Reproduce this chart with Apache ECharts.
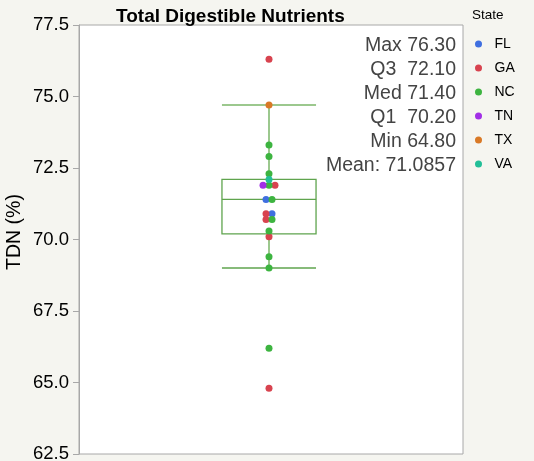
<!DOCTYPE html>
<html>
<head>
<meta charset="utf-8">
<script src="https://cdn.jsdelivr.net/npm/echarts@6/dist/echarts.min.js"></script>
<style>
html,body{margin:0;padding:0;background:#f5f5f0;}
#c{width:534px;height:461px;}
</style>
</head>
<body>
<div id="c"></div>
<script>
// ---- data ----
const stateNames = ['FL', 'GA', 'NC', 'TN', 'TX', 'VA'];
const stateColors = ['#3f6fe0', '#d8434f', '#3db440', '#a22fe6', '#d97926', '#22bf98'];
const pointStates = ['GA','TX','NC','NC','NC','VA','TN','NC','GA','FL','NC','GA','FL','GA','NC','NC','GA','NC','NC','NC','GA'];
const pointValues = [76.3,74.7,73.3,72.9,72.3,72.1,71.9,71.9,71.9,71.4,71.4,70.9,70.9,70.7,70.7,70.3,70.1,69.4,69.0,66.2,64.8];
const boxValues = [69.0, 70.2, 71.4, 72.1, 74.7]; // lower whisker, Q1, median, Q3, upper whisker
const statLabels = ['Max', 'Q3 ', 'Med', 'Q1 ', 'Min'];
const statValues = [76.30, 72.10, 71.40, 70.20, 64.80];
const meanValue = 71.0857;
const yTicks = { min: 62.5, max: 77.5, interval: 2.5 };
const category = ['TDN'];
const FONT = 'Liberation Sans, Arial, sans-serif';

// ---- beeswarm offsets (computed from duplicate values) ----
const groups = {};
pointValues.forEach((v, i) => { (groups[v] = groups[v] || []).push(i); });
const offsetOf = pointValues.map((v, i) => {
  const g = groups[v]; const k = g.indexOf(i);
  return (k - (g.length - 1) / 2) * 6;
});

const scatterSeries = stateNames.map((s, si) => ({
  name: s,
  type: 'scatter',
  z: 5,
  symbol: 'circle',
  symbolSize: 7,
  itemStyle: { color: stateColors[si], opacity: 1 },
  emphasis: { disabled: true },
  data: pointValues.map((v, i) => pointStates[i] === s ? { value: [category[0], v], symbolOffset: [offsetOf[i] - 2, 0] } : null).filter(Boolean)
}));

const boxSeries = {
  type: 'custom',
  z: 2,
  silent: true,
  encode: { x: 0, y: [1, 2, 3, 4, 5] },
  data: [[category[0]].concat(boxValues)],
  renderItem: function (params, api) {
    const cx = api.coord([api.value(0), boxValues[0]])[0] - 2;
    const w = api.size([1, 0])[0] * 0.245;
    const y = (k) => api.coord([api.value(0), api.value(k)])[1];
    const lo = y(1), q1 = y(2), md = y(3), q3 = y(4), hi = y(5);
    const wc = '#9cc88e', bc = '#5fa44e';
    return {
      type: 'group',
      children: [
        { type: 'line', shape: { x1: cx, y1: hi, x2: cx, y2: q3 }, style: { stroke: wc, lineWidth: 2 } },
        { type: 'line', shape: { x1: cx, y1: q1, x2: cx, y2: lo }, style: { stroke: wc, lineWidth: 2 } },
        { type: 'line', shape: { x1: cx - w / 2, y1: hi, x2: cx + w / 2, y2: hi }, style: { stroke: wc, lineWidth: 2 } },
        { type: 'line', shape: { x1: cx - w / 2, y1: lo, x2: cx + w / 2, y2: lo }, style: { stroke: bc, lineWidth: 1.5 } },
        { type: 'rect', shape: { x: cx - w / 2, y: q3, width: w, height: q1 - q3 }, style: { fill: 'none', stroke: bc, lineWidth: 1.3 } },
        { type: 'line', shape: { x1: cx - w / 2, y1: md, x2: cx + w / 2, y2: md }, style: { stroke: bc, lineWidth: 1.3 } }
      ]
    };
  }
};

const statTexts = statLabels.map((l, i) => l + ' ' + statValues[i].toFixed(2)).concat(['Mean: ' + meanValue.toFixed(4)]);

const chart = echarts.init(document.getElementById('c'), null, { renderer: 'canvas' });
chart.setOption({
  backgroundColor: '#f5f5f0',
  animation: false,
  textStyle: { fontFamily: FONT },
  title: {
    text: 'Total Digestible Nutrients',
    left: 111, top: 2,
    textStyle: { fontSize: 19, fontWeight: 'bold', color: '#000', fontFamily: FONT }
  },
  grid: {
    left: 79, right: 71, top: 25, bottom: 7,
    outerBoundsMode: 'none', containLabel: false,
    show: true, backgroundColor: '#ffffff', borderColor: '#a8a8a8', borderWidth: 1
  },
  legend: {
    orient: 'vertical',
    left: 470, top: 32,
    itemWidth: 16, itemHeight: 7, itemGap: 10,
    icon: 'circle',
    data: stateNames,
    textStyle: { fontSize: 14, color: '#000', padding: [0, 0, 0, 3] }
  },
  graphic: [
    { type: 'text', left: 472, top: 8, style: { text: 'State', fontSize: 13.5, fill: '#000', fontFamily: FONT } },
    { type: 'text', x: 15, y: 232, rotation: Math.PI / 2, style: { text: 'TDN (%)', fontSize: 19.5, fill: '#000', textAlign: 'center', textVerticalAlign: 'middle', fontFamily: FONT } }
  ].concat(statTexts.map((t, i) => ({
    type: 'text', z: 10,
    x: 456, y: 46 + i * 24,
    style: { text: t, fontSize: 19.5, fill: '#444', textAlign: 'right', textVerticalAlign: 'middle', fontFamily: FONT }
  }))),
  xAxis: {
    type: 'category', data: category, boundaryGap: true,
    axisLine: { show: false }, axisTick: { show: false }, axisLabel: { show: false }, splitLine: { show: false }
  },
  yAxis: {
    type: 'value', min: yTicks.min, max: yTicks.max, interval: yTicks.interval,
    axisLine: { show: true, lineStyle: { color: '#a8a8a8' } },
    axisTick: { show: true, length: 6, lineStyle: { color: '#a8a8a8' } },
    axisLabel: { fontSize: 18.5, color: '#000', margin: 10, formatter: v => v.toFixed(1) },
    splitLine: { show: false }
  },
  series: [boxSeries].concat(scatterSeries)
});
</script>
</body>
</html>
